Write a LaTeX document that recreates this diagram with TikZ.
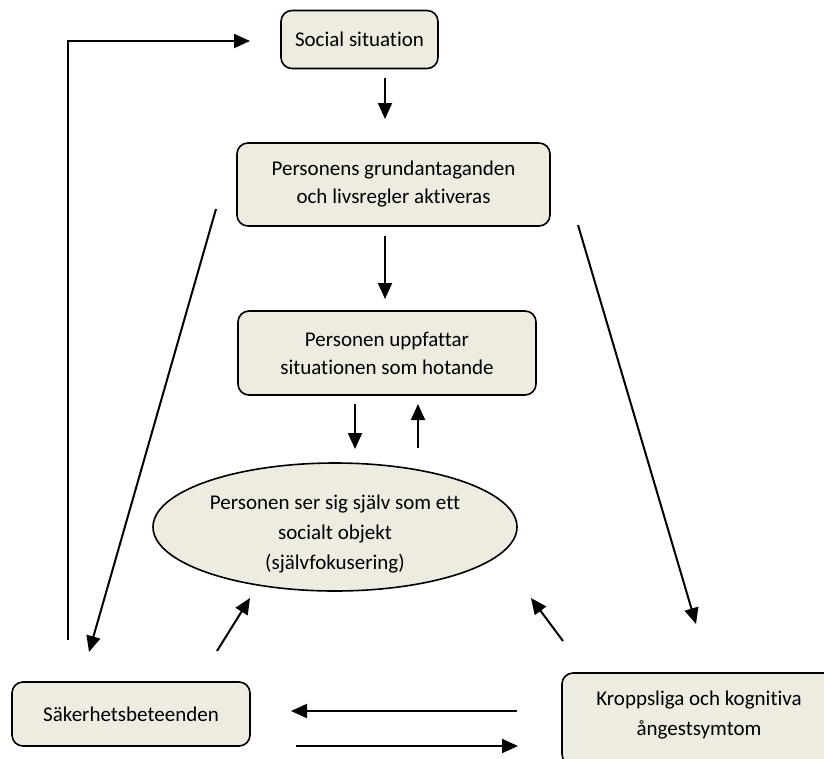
\documentclass[tikz,border=0pt]{standalone}
\usepackage{fontspec}
\setmainfont{Carlito}[Ligatures=CommonOff]
\usetikzlibrary{arrows.meta,shapes.geometric}
\definecolor{boxfill}{HTML}{EEEBE0}
\tikzset{
  box/.style={draw=black, line width=1.6pt, fill=boxfill, rounded corners=11pt, align=center, inner sep=0pt,
    font=\fontsize{21}{28}\selectfont},
  oval/.style={draw=black, line width=1.6pt, fill=boxfill, ellipse, align=center, inner sep=0pt,
    font=\fontsize{21}{30}\selectfont},
  arr/.style={line width=2pt, -{Triangle[length=16pt,width=14pt]}},
  lbl/.style={font=\fontsize{21}{30}\selectfont, align=center, inner sep=0pt}
}
\begin{document}
\begin{tikzpicture}[x=1pt,y=-1pt]
\clip (0,0) rectangle (824,758);
\useasboundingbox (0,0) rectangle (824,758);
\fill[white] (0,0) rectangle (824,758);
% nodes
\node[box, minimum width=157pt, minimum height=58pt] (soc) at (359.5,39.5) {Social situation};
\node[box, minimum width=313pt, minimum height=83pt] (grund) at (393.5,184.5) {Personens grundantaganden\\och livsregler aktiveras};
\node[box, minimum width=298pt, minimum height=84pt] (uppf) at (387,353) {Personen uppfattar\\situationen som hotande};
\node[oval, minimum width=364pt, minimum height=128pt] (ell) at (335,527) {};
\node[lbl] (ellt) at (335,534) {Personen ser sig själv som ett\\socialt objekt\\(självfokusering)};
\node[box, minimum width=238pt, minimum height=64pt] (sak) at (131,714) {Säkerhetsbeteenden};
\node[box, minimum width=274pt, minimum height=92pt] (kropp) at (699,719) {};
\node[lbl] (kroppt) at (699,715) {Kroppsliga och kognitiva\\ångestsymtom};
% coordinates for free ends
\coordinate (c1a) at (385,78);  \coordinate (c1b) at (385,119);
\coordinate (c2a) at (385,236); \coordinate (c2b) at (385,299);
\coordinate (c3a) at (355,404); \coordinate (c3b) at (355,449);
\coordinate (c4a) at (418,448); \coordinate (c4b) at (418,404);
\coordinate (c5a) at (216,209); \coordinate (c5b) at (89,652);
\coordinate (c6a) at (578,225); \coordinate (c6b) at (696,624);
\coordinate (c7a) at (217,651); \coordinate (c7b) at (250,598);
\coordinate (c8a) at (563,641); \coordinate (c8b) at (531,598);
\coordinate (c9a) at (517,711); \coordinate (c9b) at (291,711);
\coordinate (c10a) at (296,746); \coordinate (c10b) at (518,746);
\coordinate (c11a) at (68,640); \coordinate (c11b) at (250,41);
% connectors
\draw[arr] (c1a) -- (c1b);
\draw[arr] (c2a) -- (c2b);
\draw[arr] (c3a) -- (c3b);
\draw[arr] (c4a) -- (c4b);
\draw[arr] (c5a) -- (c5b);
\draw[arr] (c6a) -- (c6b);
\draw[arr] (c7a) -- (c7b);
\draw[arr] (c8a) -- (c8b);
\draw[arr] (c9a) -- (c9b);
\draw[arr] (c10a) -- (c10b);
\draw[arr] (c11a) |- (c11b);
\end{tikzpicture}
\end{document}
